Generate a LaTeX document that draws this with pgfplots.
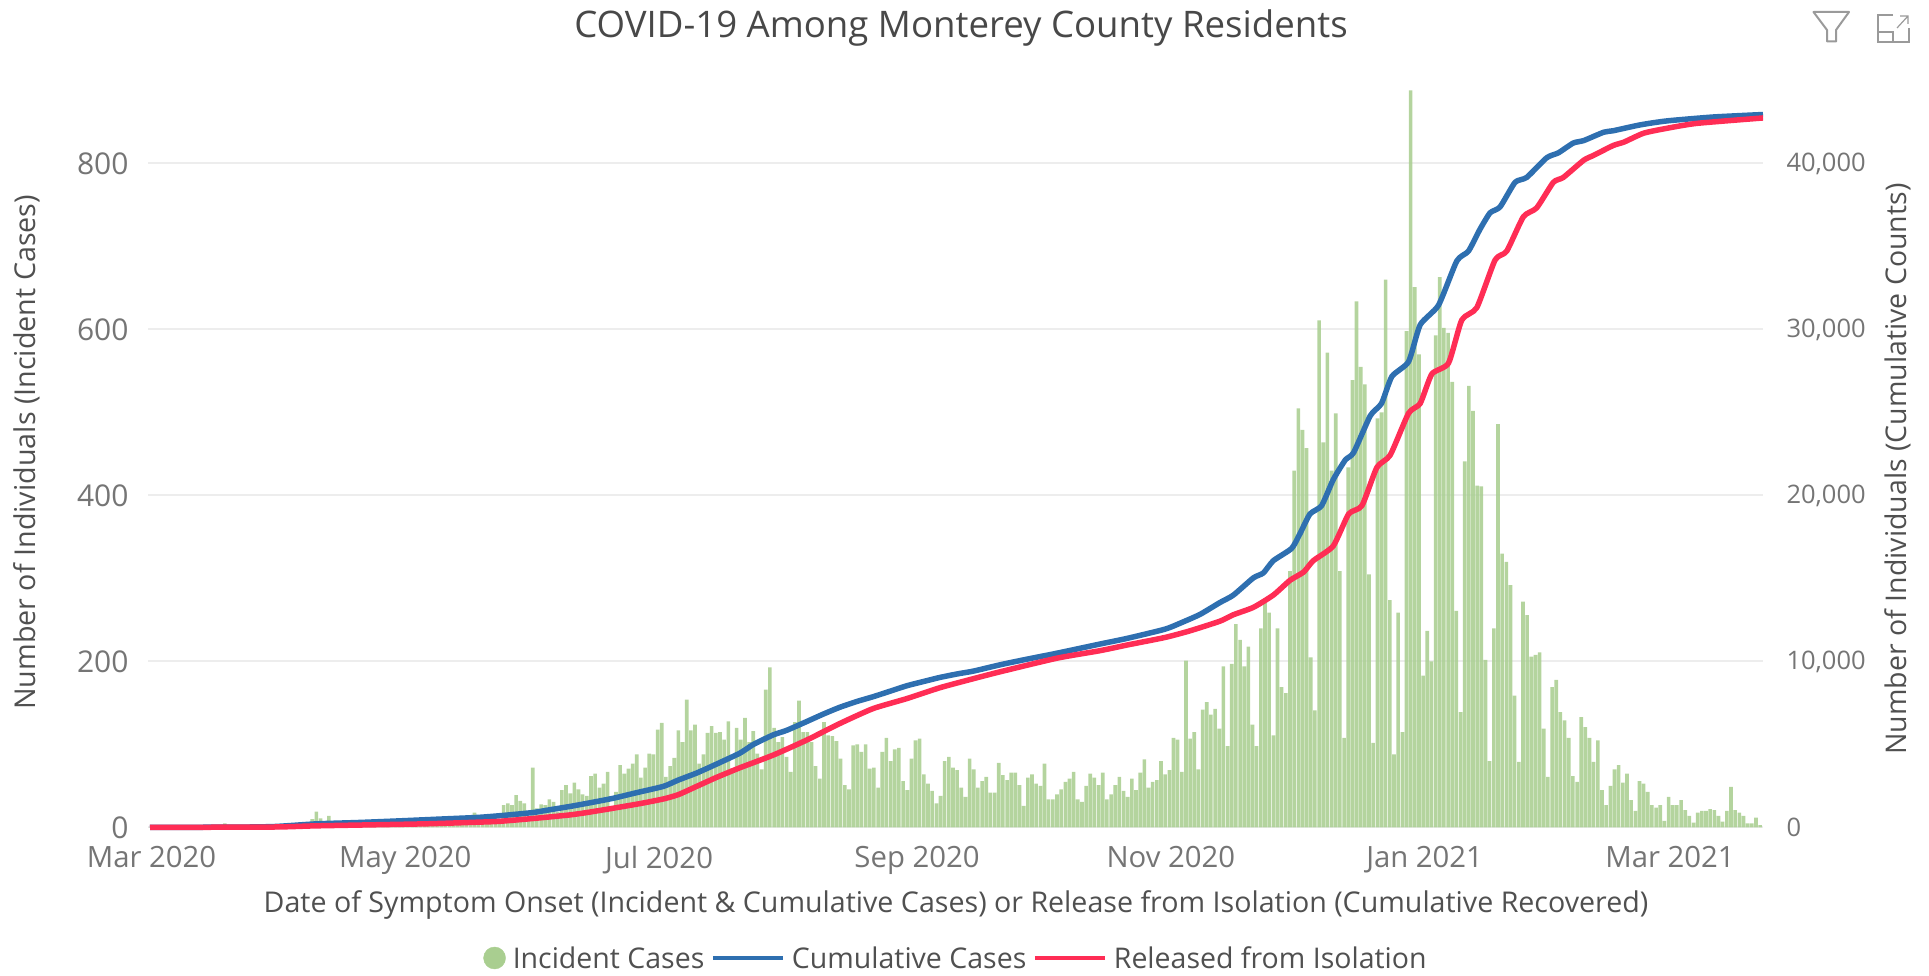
\documentclass[border=0pt]{standalone}
\usepackage{pgfplots}
\usepackage{fontspec}
\setmainfont{Open Sans}
\pgfplotsset{compat=1.18}
\definecolor{barg}{HTML}{A9CE90}
\definecolor{gridc}{HTML}{EDEDED}
\definecolor{tickc}{HTML}{757575}
\definecolor{labc}{HTML}{505050}
\definecolor{blu}{HTML}{2E6FB0}
\definecolor{rd}{HTML}{FF2D55}
\definecolor{ico}{HTML}{9A9A9A}
\begin{document}
\begin{tikzpicture}[x=1pt,y=1pt]
\path[use as bounding box] (0pt,0pt) rectangle (1929pt,976pt);
\begin{axis}[
  at={(148pt,148.5pt)},anchor=south west,
  scale only axis,width=1615pt,height=747pt,
  xmin=-0.48,xmax=387.7,ymin=0,ymax=900,
  axis line style={draw=none},tick style={draw=none},
  axis y line*=left,axis x line*=bottom,
  xtick={0,61,122,184,245,306,365},
  xticklabels={Mar 2020,May 2020,Jul 2020,Sep 2020,Nov 2020,Jan 2021,Mar 2021},
  ytick={0,200,400,600,800},
  ymajorgrids,grid style={gridc,line width=2pt},
  /pgf/number format/assume math mode=true,
  xticklabel style={xshift=1.5pt,yshift=-15.5pt,font=\fontsize{29.3}{31}\selectfont,text=tickc},
  yticklabel style={xshift=-16pt,font=\fontsize{30}{32}\selectfont,text=tickc},
  title={COVID-19 Among Monterey County Residents},
  title style={at={(axis description cs:0.5034,1.0626)},anchor=center,font=\fontsize{36.6}{38}\selectfont,text=labc!90!black},
  xlabel={Date of Symptom Onset (Incident \& Cumulative Cases) or Release from Isolation (Cumulative Recovered)},
  xlabel style={at={(axis description cs:0.5003,-0.1031)},anchor=center,font=\fontsize{28.6}{30}\selectfont,text=labc},
  ylabel={Number of Individuals (Incident Cases)},
  ylabel style={at={(axis description cs:-0.0749,0.5022)},anchor=center,font=\fontsize{28.7}{30}\selectfont,text=labc},
]
\addplot[ybar,bar shift=0pt,bar width=3.6pt,draw=none,fill=barg,fill opacity=0.87] coordinates {
(0,0)(1,0)(2,0)(3,1)(4,0)(5,1)(6,1)(7,1)(8,1)(9,2)(10,1)(11,2)(12,2)(13,2)(14,3)(15,2)(16,2)(17,2)(18,5)(19,3)
(20,2)(21,2)(22,1)(23,2)(24,1)(25,1)(26,1)(27,1)(28,1)(29,1)(30,1)(31,1)(32,1)(33,1)(34,1)(35,1)(36,2)(37,3)(38,5)(39,10)
(40,19)(41,11)(42,5)(43,14)(44,6)(45,5)(46,4)(47,4)(48,4)(49,3)(50,5)(51,5)(52,6)(53,5)(54,4)(55,5)(56,4)(57,4)(58,6)(59,6)
(60,5)(61,5)(62,5)(63,6)(64,6)(65,7)(66,11)(67,7)(68,6)(69,6)(70,6)(71,10)(72,6)(73,7)(74,6)(75,7)(76,8)(77,10)(78,18)(79,8)
(80,7)(81,8)(82,8)(83,8)(84,9)(85,27)(86,29)(87,27)(88,39)(89,32)(90,29)(91,13)(92,72)(93,23)(94,28)(95,27)(96,34)(97,31)(98,19)(99,45)
(100,51)(101,41)(102,54)(103,46)(104,40)(105,38)(106,62)(107,65)(108,48)(109,53)(110,67)(111,25)(112,43)(113,75)(114,65)(115,71)(116,77)(117,88)(118,60)(119,72)
(120,89)(121,88)(122,118)(123,126)(124,61)(125,74)(126,84)(127,117)(128,103)(129,154)(130,117)(131,124)(132,77)(133,88)(134,114)(135,122)(136,114)(137,115)(138,106)(139,128)
(140,71)(141,120)(142,106)(143,132)(144,103)(145,116)(146,89)(147,70)(148,166)(149,193)(150,120)(151,103)(152,109)(153,85)(154,67)(155,127)(156,153)(157,115)(158,115)(159,103)
(160,74)(161,59)(162,127)(163,111)(164,110)(165,104)(166,83)(167,51)(168,46)(169,99)(170,100)(171,91)(172,100)(173,71)(174,72)(175,48)(176,91)(177,108)(178,80)(179,94)
(180,96)(181,56)(182,45)(183,83)(184,105)(185,107)(186,64)(187,53)(188,44)(189,29)(190,38)(191,80)(192,85)(193,72)(194,69)(195,48)(196,37)(197,83)(198,70)(199,48)
(200,56)(201,61)(202,42)(203,42)(204,78)(205,63)(206,57)(207,66)(208,66)(209,51)(210,26)(211,60)(212,64)(213,53)(214,50)(215,77)(216,34)(217,34)(218,40)(219,46)
(220,55)(221,59)(222,67)(223,34)(224,31)(225,50)(226,65)(227,60)(228,51)(229,66)(230,34)(231,40)(232,51)(233,61)(234,44)(235,37)(236,59)(237,45)(238,66)(239,82)
(240,48)(241,55)(242,57)(243,80)(244,64)(245,69)(246,108)(247,106)(248,67)(249,201)(250,107)(251,115)(252,70)(253,142)(254,151)(255,136)(256,143)(257,119)(258,194)(259,98)
(260,197)(261,245)(262,226)(263,194)(264,218)(265,124)(266,98)(267,240)(268,271)(269,259)(270,111)(271,240)(272,169)(273,162)(274,309)(275,430)(276,505)(277,479)(278,457)(279,205)
(280,141)(281,611)(282,464)(283,572)(284,430)(285,499)(286,309)(287,108)(288,434)(289,539)(290,634)(291,555)(292,534)(293,305)(294,102)(295,493)(296,500)(297,660)(298,274)(299,88)
(300,259)(301,115)(302,598)(303,888)(304,651)(305,570)(306,183)(307,237)(308,200)(309,593)(310,663)(311,602)(312,596)(313,537)(314,261)(315,139)(316,441)(317,532)(318,502)(319,412)
(320,411)(321,202)(322,80)(323,240)(324,486)(325,330)(326,320)(327,292)(328,159)(329,79)(330,272)(331,256)(332,206)(333,208)(334,211)(335,119)(336,61)(337,169)(338,178)(339,139)
(340,129)(341,108)(342,62)(343,55)(344,133)(345,121)(346,108)(347,79)(348,105)(349,45)(350,27)(351,50)(352,70)(353,75)(354,54)(355,65)(356,33)(357,20)(358,56)(359,53)
(360,43)(361,27)(362,24)(363,27)(364,8)(365,37)(366,27)(367,27)(368,33)(369,21)(370,14)(371,6)(372,18)(373,20)(374,20)(375,22)(376,21)(377,14)(378,7)(379,20)
(380,49)(381,21)(382,18)(383,14)(384,5)(385,5)(386,12)(387,3)
};
\end{axis}
\begin{axis}[
  at={(148pt,148.5pt)},anchor=south west,
  scale only axis,width=1615pt,height=747pt,
  xmin=-0.48,xmax=387.7,ymin=0,ymax=45000,
  axis line style={draw=none},tick style={draw=none},
  axis y line*=right,axis x line=none,clip=false,
  ytick={0,10000,20000,30000,40000},
  scaled y ticks=false,
  /pgf/number format/assume math mode=true,
  /pgf/number format/1000 sep={,},
  yticklabel style={font=\fontsize{25.5}{27}\selectfont,text=tickc,xshift=20pt,anchor=west},
  ylabel={Number of Individuals (Cumulative Counts)},
  ylabel style={at={(axis description cs:1.0836,0.4798)},anchor=center,rotate=0,font=\fontsize{28.5}{30}\selectfont,text=labc},
  legend style={draw=none,fill=none,at={(axis description cs:0.5003,-0.1747)},anchor=center,
    legend columns=3,font=\fontsize{28.5}{30}\selectfont,text=labc,
    /tikz/every even column/.append style={column sep=4.5pt},
    /tikz/every odd column/.append style={column sep=5pt},
    legend cell align=left},
]
\addlegendimage{legend image code/.code={\fill[barg] (0pt,0pt) circle (11pt);}}
\addlegendentry{Incident Cases}
\addplot[blu,line width=5.5pt,line join=round,smooth,tension=0.35,
  legend image code/.code={\draw[blu,line width=4pt] (0pt,0pt) -- (70pt,0pt);}] coordinates {
(0,10)(20,20)(30,60)(40,220)(50,300)(60,400)(70,510)(79,610)(85,730)(92,900)(95.4,1040)(101,1270)(106,1500)(111.4,1764)(117,2100)(123.4,2478)(127,2860)(131.4,3282)(136,3800)(141.8,4482)(145,5000)(149.8,5580)(153,5850)(157.8,6378)(162,6850)(165.8,7242)(170,7600)(173.8,7878)(178,8220)(181.9,8538)(186,8800)(189.9,9042)(194,9250)(197.9,9420)(204.3,9800)(210,10100)(218,10500)(228.3,11050)(235,11400)(244,11950)(248,12350)(252.4,12840)(257.2,13557)
(260.4,14000)(265.2,15037)(267.6,15333)(270,16073)(274.4,16813)(276.4,17700)(278.8,18885)(281.6,19388)(284.4,20957)(287.3,22141)(289.3,22585)(293.3,24805)(296,25545)(298.5,27173)(302.5,28061)(305.3,30281)(309.7,31465)(314.1,34129)(316.9,34721)(319.7,36053)(322.1,37030)(324.5,37385)(328.1,38865)(330.9,39161)(335.7,40345)(338.5,40641)(342.1,41233)(344.6,41381)(349.4,41884)(351.7,41973)(358.2,42328)(364.6,42565)(375.8,42802)(387.7,42950)
};
\addlegendentry{Cumulative Cases}
\addplot[rd,line width=5.5pt,line join=round,smooth,tension=0.35,
  legend image code/.code={\draw[rd,line width=4pt] (0pt,0pt) -- (70pt,0pt);}] coordinates {
(0,5)(30,30)(40,100)(66,220)(79.3,324)(84,370)(92,540)(95.4,620)(101,760)(105,900)(111.4,1164)(118,1450)(123.4,1720)(127,1980)(131.4,2478)(136,3000)(141.8,3600)(149.8,4362)(157.8,5262)(165.8,6264)(173.8,7164)(181.9,7764)(189.9,8424)(197.9,8964)(204.3,9378)(218,10200)(228.3,10650)(235,11000)(244,11450)(250,11850)(257.2,12432)
(260.4,12817)(265.2,13261)(270,14001)(274,14889)(277.3,15392)(279.6,16073)(284.4,16961)(288.1,18885)(291.3,19388)(294.9,21697)(298.1,22437)(302.5,24953)(305.3,25545)(308.1,27321)(312.1,27972)(315.3,30577)(318.9,31317)(323.3,34188)(326.1,34721)(330.1,36793)(333.3,37326)(337.3,38865)(339.7,39161)(344.6,40197)(347,40493)(351.7,41085)(354.3,41292)(359,41825)(364.6,42121)(371.8,42417)(387.7,42743)
};
\addlegendentry{Released from Isolation}
\end{axis}
\draw[ico,line width=2pt,line join=round] (1813.5pt,964pt) -- (1849pt,964pt) -- (1836pt,946pt) -- (1836pt,934.5pt) -- (1827pt,934.5pt) -- (1827pt,946pt) -- cycle;
\draw[ico,line width=2pt] (1893pt,961pt) -- (1878pt,961pt) -- (1878pt,934pt) -- (1909pt,934pt) -- (1909pt,948pt);
\draw[ico,line width=1.5pt] (1878pt,944pt) -- (1893pt,944pt) -- (1893pt,934pt);
\draw[ico,line width=1.2pt] (1897pt,948pt) -- (1908pt,960pt) (1900pt,960pt) -- (1908pt,960pt) -- (1908pt,952pt);
\end{tikzpicture}
\end{document}
